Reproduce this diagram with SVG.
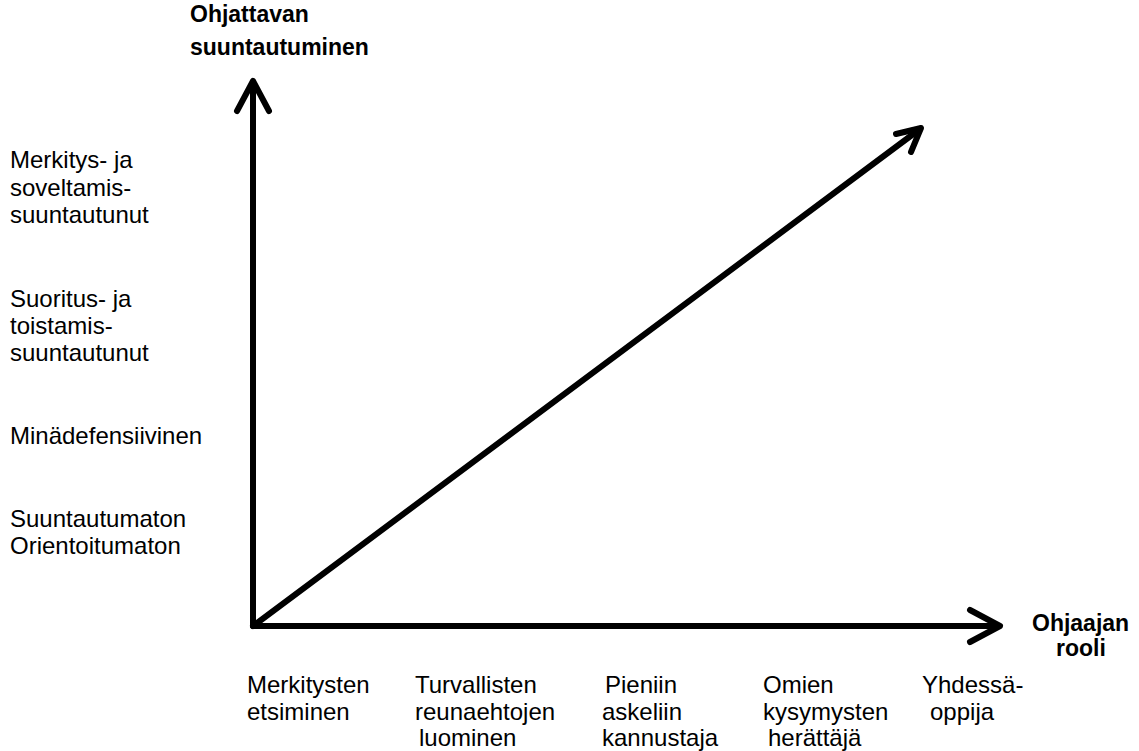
<svg xmlns="http://www.w3.org/2000/svg" width="1139" height="751" viewBox="0 0 1139 751">
<style>
.t{font-family:"Liberation Sans",Arial,sans-serif;font-size:24px;fill:#000}
.b{font-family:"Liberation Sans",Arial,sans-serif;font-size:23px;font-weight:bold;fill:#000}
.ax{stroke:#000;stroke-width:6;fill:none;stroke-linecap:round;stroke-linejoin:round}
</style>
<rect width="1139" height="751" fill="#fff"/>
<g id="connectors">
<path class="ax" d="M253,626 V82"/>
<path class="ax" d="M237,111 L253,81 L269,111"/>
<path class="ax" d="M253,626 H998"/>
<path class="ax" d="M970,610 L1000,626 L970,642"/>
<path class="ax" d="M253,626 L920,129"/>
<path class="ax" d="M896,134 L921,128 L911,152"/>
</g>
<g id="y-title"><text class="b" x="190" y="22">Ohjattavan</text><text class="b" x="190" y="55">suuntautuminen</text></g>
<g id="x-title"><text class="b" x="1032" y="631">Ohjaajan</text><text class="b" x="1056" y="656">rooli</text></g>
<g id="y1"><text class="t" x="10" y="168">Merkitys- ja</text><text class="t" x="10" y="196">soveltamis-</text><text class="t" x="10" y="223">suuntautunut</text></g>
<g id="y2"><text class="t" x="10" y="307">Suoritus- ja</text><text class="t" x="10" y="334">toistamis-</text><text class="t" x="10" y="361">suuntautunut</text></g>
<g id="y3"><text class="t" x="10" y="444">Minädefensiivinen</text></g>
<g id="y4"><text class="t" x="10" y="527">Suuntautumaton</text><text class="t" x="10" y="554">Orientoitumaton</text></g>
<g id="x1"><text class="t" x="247" y="693">Merkitysten</text><text class="t" x="247" y="720">etsiminen</text></g>
<g id="x2"><text class="t" x="415" y="693">Turvallisten</text><text class="t" x="415" y="720">reunaehtojen</text><text class="t" x="419" y="746">luominen</text></g>
<g id="x3"><text class="t" x="605" y="693">Pieniin</text><text class="t" x="602" y="720">askeliin</text><text class="t" x="602" y="746">kannustaja</text></g>
<g id="x4"><text class="t" x="763" y="693">Omien</text><text class="t" x="763" y="720">kysymysten</text><text class="t" x="768" y="746">herättäjä</text></g>
<g id="x5"><text class="t" x="922" y="693">Yhdessä-</text><text class="t" x="930" y="720">oppija</text></g>
</svg>
